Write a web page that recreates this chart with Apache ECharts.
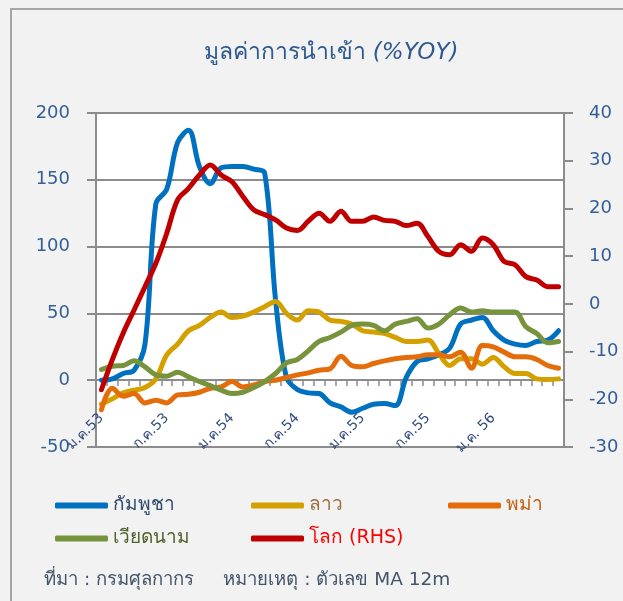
<!DOCTYPE html>
<html>
<head>
<meta charset="utf-8">
<script src="https://cdn.jsdelivr.net/npm/echarts@6/dist/echarts.min.js"></script>
<style>
html,body{margin:0;padding:0;background:#f2f2f2;}
#chart{width:623px;height:601px;}
</style>
</head>
<body>
<div id="chart"></div>
<script>
var categories = [
 'ม.ค.53','ก.พ.53','มี.ค.53','เม.ย.53','พ.ค.53','มิ.ย.53','ก.ค.53','ส.ค.53','ก.ย.53','ต.ค.53','พ.ย.53','ธ.ค.53',
 'ม.ค.54','ก.พ.54','มี.ค.54','เม.ย.54','พ.ค.54','มิ.ย.54','ก.ค.54','ส.ค.54','ก.ย.54','ต.ค.54','พ.ย.54','ธ.ค.54',
 'ม.ค.55','ก.พ.55','มี.ค.55','เม.ย.55','พ.ค.55','มิ.ย.55','ก.ค.55','ส.ค.55','ก.ย.55','ต.ค.55','พ.ย.55','ธ.ค.55',
 'ม.ค. 56','ก.พ.56','มี.ค.56','เม.ย.56','พ.ค.56','มิ.ย.56','ก.ค.56'
];
var tickLabels = ['ม.ค.53','ก.ค.53','ม.ค.54','ก.ค.54','ม.ค.55','ก.ค.55','ม.ค. 56'];
var cambodia = [0,1,5,7.5,27,132,143,178,187,160,147,159,160,160,158,155,60,2,-7,-9.5,-10,-17,-20,-24,-21,-18,-17.5,-19,2,14,16,19,24,42,45,47,37,30,27,26,29,30,37];
var laos = [-18,-14,-9.5,-7.5,-5.5,1,19,27,37,41,47,51,47,48,51,55,59,50,45,52,51,45,44,42,37,36,35,32,29,29,30,20,11,16,16,12,17,10,5,5,1,0.5,1];
var myanmar = [-22,-6,-12,-10,-17,-15,-17,-11,-10.5,-9,-6,-5,-1,-5,-3.5,-1,0,2,4,5.5,7.5,8.5,18,11,10,12.5,14.5,16,17,17.5,19,19,17.5,21,9,26,25,21,17.5,17.5,15.5,11,9];
var vietnam = [8,10.5,11,14.5,10,4,3,6,2.5,-1,-4,-7.5,-10,-9,-5.5,-1,5,13,15.5,22,29,32,36,41,42,41,37,42,44,46,39,42,49,54,51,52,51,51,51,40,35,28,29];
var world = [-18,-11.7,-6.1,-1.3,3.6,8.5,14.8,21.8,24.2,27,29.1,27,25.6,22.5,19.7,18.7,17.6,15.9,15.4,17.3,19,17.3,19.4,17.3,17.3,18.2,17.5,17.3,16.4,16.9,14.1,11,10.3,12.4,11,13.8,12.4,8.9,8.2,5.7,5,3.6,3.6];
var leftTicks = {min:-50, max:200, interval:50};
var rightTicks = {min:-30, max:40, interval:10};
var seriesNames = ['กัมพูชา','ลาว','พม่า','เวียดนาม','โลก (RHS)'];

var FONT = "Tahoma, 'DejaVu Sans', 'Noto Sans', sans-serif";
var colors = ['#0070c0','#d4a000','#e46c0a','#77933c','#c00000'];
var textColors = ['#2f4a70','#9a7040','#c0600f','#4f6228','#ff0000'];
var gray = '#8c8c8c';

var chart = echarts.init(document.getElementById('chart'));

function mkSeries(name, data, color, axis){
  return {
    name: name, type:'line', data:data, yAxisIndex: axis,
    smooth: 0.35, showSymbol:false, symbol:'none',
    lineStyle:{color:color, width:5, cap:'round', join:'round'},
    itemStyle:{color:color}
  };
}
var legendPos = [[50,491],[246,491],[443,491],[50,524],[246,524]];
var legends = seriesNames.map(function(n,i){
  return {
    data:[n], left:legendPos[i][0], top:legendPos[i][1],
    icon:'roundRect', itemWidth:53, itemHeight:6, itemGap:4,
    textStyle:{color:textColors[i], fontSize:19, fontFamily:FONT}
  };
});

chart.setOption({
  backgroundColor:'#f2f2f2',
  animation:false,
  legend: legends,
  grid:{left:96,right:59,top:113,bottom:154,show:true,backgroundColor:'#ffffff',borderWidth:0},
  xAxis:{
    type:'category', data:categories, boundaryGap:true, position:'bottom', offset:-67,
    axisLine:{onZero:false, lineStyle:{color:gray,width:2}},
    axisTick:{show:true, interval:0, length:6, lineStyle:{color:gray,width:1.5}},
    axisLabel:{
      interval:function(idx, val){ return tickLabels.indexOf(val) >= 0; },
      rotate:45, margin:36, color:'#2f4b7c', fontSize:14, fontFamily:FONT
    },
    splitLine:{show:false}
  },
  yAxis:[{
    type:'value', position:'left', min:leftTicks.min, max:leftTicks.max, interval:leftTicks.interval,
    axisLine:{show:true, lineStyle:{color:gray,width:2}},
    axisTick:{show:true, length:9, lineStyle:{color:gray,width:2}},
    axisLabel:{margin:26, color:'#335f96', fontSize:18, fontFamily:FONT},
    splitLine:{show:true, lineStyle:{color:gray,width:2}}
  },{
    type:'value', position:'right', min:rightTicks.min, max:rightTicks.max, interval:rightTicks.interval,
    axisLine:{show:true, lineStyle:{color:gray,width:2}},
    axisTick:{show:true, length:9, lineStyle:{color:gray,width:2}},
    axisLabel:{margin:25, color:'#335f96', fontSize:18, fontFamily:FONT},
    splitLine:{show:false}
  }],
  series:[
    mkSeries(seriesNames[0], cambodia, colors[0], 0),
    mkSeries(seriesNames[1], laos, colors[1], 0),
    mkSeries(seriesNames[2], myanmar, colors[2], 0),
    mkSeries(seriesNames[3], vietnam, colors[3], 0),
    mkSeries(seriesNames[4], world, colors[4], 1)
  ],
  graphic:[
    {type:'rect', z:-10, shape:{x:11,y:9,width:700,height:700}, style:{fill:'none', stroke:'#a6a6a6', lineWidth:2}},
    {type:'text', x:331, y:53, style:{
      text:'{a|มูลค่าการนำเข้า }{b|(%YOY)}', align:'center', verticalAlign:'middle',
      rich:{a:{fontSize:23, fill:'#2f5a8f', fontFamily:FONT}, b:{fontSize:23, fill:'#2f5a8f', fontStyle:'italic', fontFamily:FONT}}
    }},
    {type:'text', x:44, y:580, style:{
      text:'ที่มา : กรมศุลกากร     หมายเหตุ : ตัวเลข MA 12m', fontSize:18.5, fill:'#44546a', fontFamily:FONT, verticalAlign:'middle'
    }}
  ]
});
</script>
</body>
</html>
